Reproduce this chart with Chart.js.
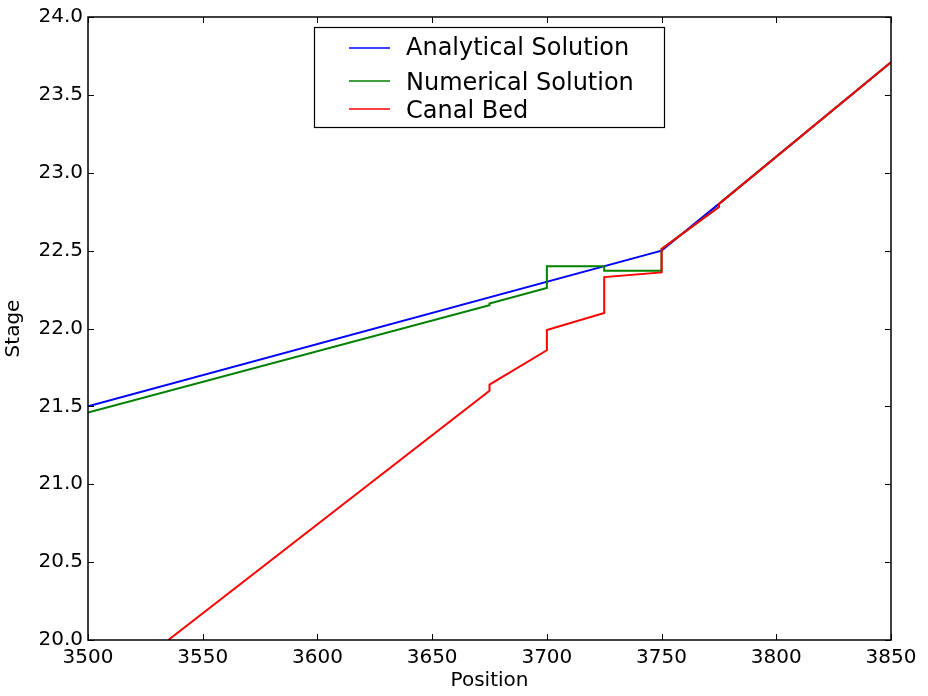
<!DOCTYPE html>
<html>
<head>
<meta charset="utf-8">
<script src="https://cdn.jsdelivr.net/npm/chart.js@4/dist/chart.umd.min.js"></script>
<style>
  html, body { margin: 0; padding: 0; background: #fff; }
  #wrap { width: 928px; height: 696px; }
</style>
</head>
<body>
<div id="wrap"><canvas id="chart" width="928" height="696"></canvas></div>
<script>
// values
const analyticalX = [3500, 3750, 3775, 3850];
const analyticalY = [21.5, 22.5, 22.80, 23.71];

const numericalX = [3500, 3675, 3675, 3700, 3700, 3725, 3725, 3750, 3750, 3775, 3775, 3850];
const numericalY = [21.46, 22.15, 22.16, 22.26, 22.40, 22.40, 22.37, 22.37, 22.51, 22.78, 22.80, 23.71];

const bedX = [3535, 3675, 3675, 3700, 3700, 3725, 3725, 3750, 3750, 3775, 3775, 3850];
const bedY = [20.0, 21.6, 21.64, 21.86, 21.99, 22.10, 22.33, 22.36, 22.51, 22.78, 22.80, 23.71];

const seriesNames = ['Analytical Solution', 'Numerical Solution', 'Canal Bed'];
const seriesColors = ['#0000ff', '#008000', '#ff0000'];

const xTicks = [3500, 3550, 3600, 3650, 3700, 3750, 3800, 3850];
const yTicks = [20.0, 20.5, 21.0, 21.5, 22.0, 22.5, 23.0, 23.5, 24.0];

const FONT = '"DejaVu Sans", sans-serif';

const toPoints = (xs, ys) => xs.map((x, i) => ({ x: x, y: ys[i] }));

// frame, inward ticks, axis titles and legend box
const decor = {
    id: 'decor',
    afterDraw(chart) {
        const { ctx, chartArea: a, scales } = chart;
        ctx.save();
        ctx.strokeStyle = '#000';
        ctx.lineWidth = 1;
        const len = 6;
        xTicks.forEach(v => {
            const px = Math.round(scales.x.getPixelForValue(v)) + 0.5;
            ctx.beginPath();
            ctx.moveTo(px, a.bottom); ctx.lineTo(px, a.bottom - len);
            ctx.moveTo(px, a.top); ctx.lineTo(px, a.top + len);
            ctx.stroke();
        });
        yTicks.forEach(v => {
            const py = Math.round(scales.y.getPixelForValue(v)) + 0.5;
            ctx.beginPath();
            ctx.moveTo(a.left, py); ctx.lineTo(a.left + len, py);
            ctx.moveTo(a.right, py); ctx.lineTo(a.right - len, py);
            ctx.stroke();
        });
        ctx.lineWidth = 1.5;
        ctx.strokeRect(a.left, a.top, a.right - a.left, a.bottom - a.top);

        // axis titles
        ctx.fillStyle = '#000';
        ctx.font = '20px ' + FONT;
        ctx.textAlign = 'center';
        ctx.textBaseline = 'middle';
        ctx.fillText('Position', (a.left + a.right) / 2, 681);
        ctx.save();
        ctx.translate(14, (a.top + a.bottom) / 2);
        ctx.rotate(-Math.PI / 2);
        ctx.fillText('Stage', 0, 0);
        ctx.restore();

        // legend
        const bx = 314, by = 27, bw = 350, bh = 100;
        ctx.fillStyle = '#fff';
        ctx.fillRect(bx, by, bw, bh);
        ctx.lineWidth = 1.2;
        ctx.strokeRect(bx + 0.5, by + 0.5, bw, bh);
        const rows = [48, 81, 109];
        const textRows = [49, 83.5, 111.5];
        ctx.font = '24px ' + FONT;
        ctx.textAlign = 'left';
        seriesNames.forEach((name, i) => {
            ctx.strokeStyle = seriesColors[i];
            ctx.lineWidth = 1.6;
            ctx.beginPath();
            ctx.moveTo(349, rows[i]); ctx.lineTo(390, rows[i]);
            ctx.stroke();
            ctx.fillStyle = '#000';
            ctx.fillText(name, 406, textRows[i]);
        });
        ctx.restore();
    }
};

const makeSet = (i, xs, ys, order) => ({
    label: seriesNames[i],
    data: toPoints(xs, ys),
    borderColor: seriesColors[i],
    backgroundColor: seriesColors[i],
    borderWidth: 2,
    showLine: true,
    pointRadius: 0,
    tension: 0,
    order: order
});

new Chart(document.getElementById('chart'), {
    type: 'scatter',
    data: {
        datasets: [
            makeSet(0, analyticalX, analyticalY, 2),
            makeSet(1, numericalX, numericalY, 1),
            makeSet(2, bedX, bedY, 0)
        ]
    },
    options: {
        responsive: false,
        animation: false,
        layout: { padding: { top: 14, right: 37, left: 0, bottom: 0 } },
        plugins: { legend: { display: false }, tooltip: { enabled: false } },
        scales: {
            x: {
                type: 'linear',
                min: 3500, max: 3850,
                afterBuildTicks: s => { s.ticks = xTicks.map(v => ({ value: v })); },
                afterFit: s => { s.height = 56; },
                grid: { display: false, drawTicks: false },
                border: { display: false },
                ticks: {
                    color: '#000', font: { family: FONT, size: 20 },
                    padding: 6, maxRotation: 0, autoSkip: false,
                    callback: v => String(v)
                }
            },
            y: {
                min: 20, max: 24,
                afterBuildTicks: s => { s.ticks = yTicks.map(v => ({ value: v })); },
                afterFit: s => { s.width = 88; },
                grid: { display: false, drawTicks: false },
                border: { display: false },
                ticks: {
                    color: '#000', font: { family: FONT, size: 20 },
                    padding: 5, autoSkip: false,
                    callback: v => Number(v).toFixed(1)
                }
            }
        }
    },
    plugins: [decor]
});
</script>
</body>
</html>
